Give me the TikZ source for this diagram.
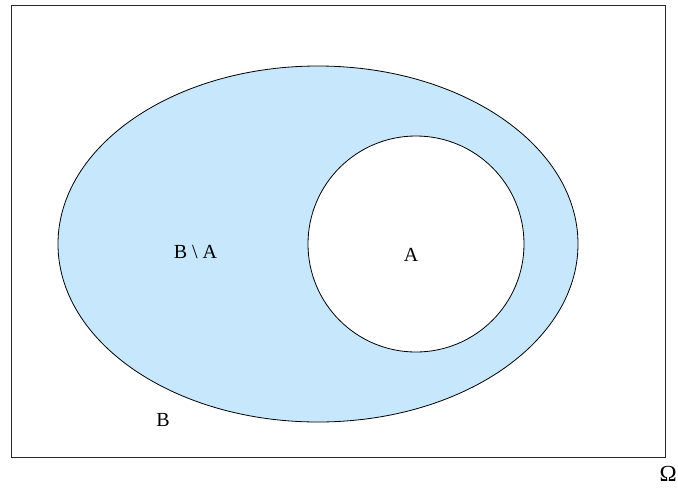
\documentclass[tikz,border=0pt]{standalone}
\usepackage{fontspec}
\setmainfont{Liberation Serif}
\usetikzlibrary{shapes.geometric}
\definecolor{setblue}{RGB}{198,231,252}
\begin{document}
\begin{tikzpicture}[x=1pt,y=-1pt,
  lbl/.style={inner sep=0pt,anchor=base,font=\fontsize{20}{22}\selectfont},
  outline/.style={draw=black,line width=0.8pt}]
\useasboundingbox (0,0) rectangle (678,491);
\node[draw=black!85,line width=1pt,minimum width=654pt,minimum height=452pt,inner sep=0pt,anchor=north west] (omega) at (11,5) {};
\node[outline,fill=setblue,ellipse,minimum width=520pt,minimum height=356pt,inner sep=0pt] (b) at (318,244) {};
\node[outline,fill=white,circle,minimum size=216pt,inner sep=0pt] (a) at (416,244) {};
\node[lbl] (ba) at (195.5,258.3) {B \textbackslash{} A};
\node[lbl] (al) at (411,261.7) {A};
\node[lbl] (bl) at (163,426.7) {B};
\node[lbl,anchor=base west,font=\fontsize{23}{25}\selectfont] (om) at (659.5,481.7) {Ω};
\end{tikzpicture}
\end{document}
